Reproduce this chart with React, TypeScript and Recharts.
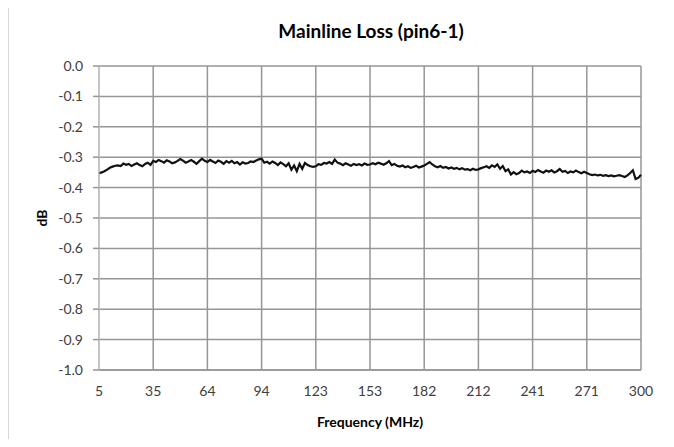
import React from "react";
import { LineChart, Line, XAxis, YAxis, CartesianGrid } from "recharts";

// sweep: 201 points, 5 MHz .. 300 MHz
const START_MHZ = 5;
const STEP_MHZ = 1.475;

const LOSS_DB = [
  -0.353, -0.35, -0.346, -0.341, -0.335, -0.331, -0.328, -0.327, -0.329, -0.321,
  -0.325, -0.322, -0.329, -0.324, -0.32, -0.326, -0.33, -0.322, -0.318, -0.325,
  -0.312, -0.316, -0.309, -0.313, -0.318, -0.31, -0.314, -0.32, -0.317, -0.312,
  -0.306, -0.311, -0.318, -0.314, -0.309, -0.315, -0.322, -0.313, -0.305, -0.312,
  -0.316, -0.309, -0.314, -0.319, -0.311, -0.315, -0.322, -0.313, -0.318, -0.312,
  -0.32, -0.316, -0.324, -0.317, -0.321, -0.319, -0.314, -0.316, -0.311, -0.307,
  -0.305, -0.318, -0.315, -0.321, -0.314, -0.319, -0.326, -0.317, -0.323, -0.33,
  -0.32, -0.341, -0.327, -0.346, -0.322, -0.338, -0.319, -0.326, -0.33, -0.332,
  -0.33, -0.323, -0.325, -0.319, -0.321, -0.316, -0.322, -0.308, -0.318, -0.321,
  -0.326, -0.32, -0.324, -0.328, -0.322, -0.326, -0.323, -0.327, -0.321, -0.325,
  -0.324, -0.32, -0.323, -0.318, -0.321, -0.325, -0.32, -0.313, -0.326, -0.322,
  -0.328, -0.331, -0.327, -0.333, -0.33, -0.335, -0.332, -0.328, -0.334, -0.331,
  -0.327, -0.322, -0.316, -0.324, -0.33, -0.333, -0.329, -0.335, -0.332, -0.337,
  -0.334, -0.338, -0.335, -0.34, -0.336, -0.341, -0.339, -0.343, -0.338, -0.342,
  -0.34, -0.336, -0.333, -0.33, -0.335, -0.327, -0.332, -0.324, -0.338, -0.329,
  -0.346, -0.34, -0.357, -0.349, -0.356, -0.352, -0.344, -0.35, -0.347, -0.352,
  -0.345, -0.349, -0.342, -0.347, -0.351, -0.344, -0.348, -0.343, -0.35, -0.346,
  -0.339, -0.348, -0.345, -0.352, -0.347, -0.35, -0.344, -0.349, -0.353, -0.348,
  -0.352, -0.356, -0.359, -0.357, -0.36, -0.358, -0.361, -0.359, -0.362, -0.36,
  -0.363, -0.361, -0.359, -0.362, -0.365, -0.36, -0.352, -0.343, -0.372, -0.368,
  -0.358,
];

const X_TICKS = [5, 34.5, 64, 93.5, 123, 152.5, 182, 211.5, 241, 270.5, 300];
const Y_TICKS = [0, -0.1, -0.2, -0.3, -0.4, -0.5, -0.6, -0.7, -0.8, -0.9, -1];

const data = LOSS_DB.map((db, i) => ({
  freq: Math.round((START_MHZ + i * STEP_MHZ) * 1000) / 1000,
  db,
}));

const GRID = "#969696";
const FONT = "Lato, 'Open Sans', sans-serif";

export default function App() {
  return (
    <div
      style={{
        position: "relative",
        width: 674,
        height: 447,
        margin: -8,
        overflow: "hidden",
        background: "#fff",
        fontFamily: FONT,
      }}
    >
      <div
        style={{
          position: "absolute",
          left: 8,
          top: 2,
          width: 660,
          height: 470,
          border: "1px solid #d9d9d9",
          boxSizing: "border-box",
        }}
      />
      <div
        style={{
          position: "absolute",
          left: 0,
          width: 742,
          top: 19,
          textAlign: "center",
          fontSize: 19,
          fontWeight: 700,
          color: "#000",
        }}
      >
        Mainline Loss (pin6-1)
      </div>
      <div
        style={{
          position: "absolute",
          left: 0,
          width: 740,
          top: 413,
          textAlign: "center",
          fontSize: 14,
          fontWeight: 700,
          color: "#000",
        }}
      >
        Frequency (MHz)
      </div>
      <div
        style={{
          position: "absolute",
          left: 41,
          top: 218,
          transform: "translate(-50%, -50%) rotate(-90deg)",
          fontSize: 14,
          fontWeight: 700,
          color: "#000",
        }}
      >
        dB
      </div>
      <div style={{ position: "absolute", left: 0, top: 0 }}>
        <LineChart
          width={674}
          height={447}
          data={data}
          margin={{ top: 66, right: 33, bottom: 47, left: 39 }}
        >
          <CartesianGrid stroke={GRID} strokeWidth={1.5} />
          <XAxis
            dataKey="freq"
            type="number"
            domain={[5, 300]}
            ticks={X_TICKS}
            tickFormatter={(v) => String(Math.round(v))}
            height={30}
            tickLine={false}
            tickSize={0}
            tickMargin={16}
            axisLine={{ stroke: GRID, strokeWidth: 1.5 }}
            tick={{ fontSize: 14, fill: "#404040", fontFamily: FONT }}
          />
          <YAxis
            type="number"
            domain={[-1, 0]}
            ticks={Y_TICKS}
            tickFormatter={(v) => Number(v).toFixed(1)}
            width={60}
            tickSize={6}
            tickMargin={10}
            tickLine={{ stroke: GRID, strokeWidth: 1.5 }}
            axisLine={{ stroke: "#d9d9d9" }}
            tick={{ fontSize: 14, fill: "#404040", fontFamily: FONT }}
          />
          <Line
            type="linear"
            dataKey="db"
            stroke="#111"
            strokeWidth={2.2}
            dot={false}
            isAnimationActive={false}
          />
        </LineChart>
      </div>
    </div>
  );
}
